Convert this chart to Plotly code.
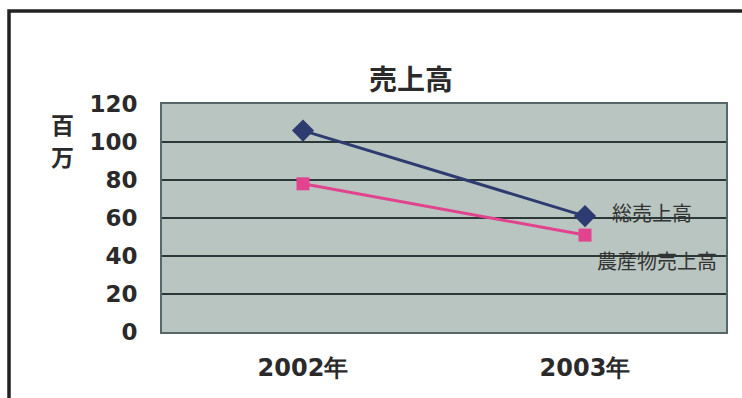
import plotly.graph_objects as go

# Sales data (millions of yen)
years = ["2002年", "2003年"]
total_sales = [106, 61]        # 総売上高
farm_sales = [78, 51]          # 農産物売上高
y_ticks = [0, 20, 40, 60, 80, 100, 120]

W, H = 742, 398
L, R, T, B = 162, 16, 104, 66
pw, ph = W - L - R, H - T - B


def px(x):
    return (x - L) / pw


def py(y):
    return (H - B - y) / ph


JP = "Noto Sans CJK JP"
NUM = "DejaVu Sans"
INK = "#2a2a2a"


def note(text, x, y, size, bold=False, color=INK):
    return dict(text=text, x=px(x), y=py(y), xref="paper", yref="paper",
                xanchor="center", yanchor="middle", showarrow=False,
                font=dict(family=JP, size=size, color=color,
                          weight="bold" if bold else "normal"))


fig = go.Figure()
fig.add_trace(go.Scatter(
    x=years, y=total_sales, mode="lines+markers",
    line=dict(color="#2d3b70", width=3),
    marker=dict(symbol="diamond", size=17, color="#2d3b70"),
    name="総売上高",
))
fig.add_trace(go.Scatter(
    x=years, y=farm_sales, mode="lines+markers",
    line=dict(color="#e2438e", width=3),
    marker=dict(symbol="square", size=13, color="#e2438e"),
    name="農産物売上高",
))

fig.update_layout(
    width=W, height=H,
    margin=dict(l=L, r=R, t=T, b=B),
    paper_bgcolor="white",
    plot_bgcolor="#b9c5c0",
    showlegend=False,
    xaxis=dict(
        type="category", range=[-0.5, 1.5], automargin=False,
        showgrid=False, zeroline=False,
        showline=True, mirror=True, linecolor="#56686a", linewidth=2,
        ticks="", ticklabelstandoff=13,
        tickfont=dict(family=NUM, size=24, color=INK, weight="bold"),
    ),
    yaxis=dict(
        range=[0, 120], tickvals=y_ticks, automargin=False,
        showgrid=True, gridcolor="#2c3838", gridwidth=1.5,
        zeroline=False,
        showline=True, mirror=True, linecolor="#56686a", linewidth=2,
        ticks="", ticklabelstandoff=18,
        tickfont=dict(family=NUM, size=23, color=INK, weight="bold"),
    ),
    annotations=[
        note("売上高", 411, 78, 28, bold=True),
        note("百", 62, 124, 23, bold=True),
        note("万", 62, 156, 23, bold=True),
        note("総売上高", 652, 212, 20, color="#333333"),
        note("農産物売上高", 657, 260, 20, color="#333333"),
    ],
    shapes=[
        dict(type="rect", xref="paper", yref="paper",
             x0=px(9), x1=px(770), y0=py(430), y1=py(11),
             line=dict(color="#222", width=3.5), layer="below"),
    ],
)

fig.write_html("out.html")
